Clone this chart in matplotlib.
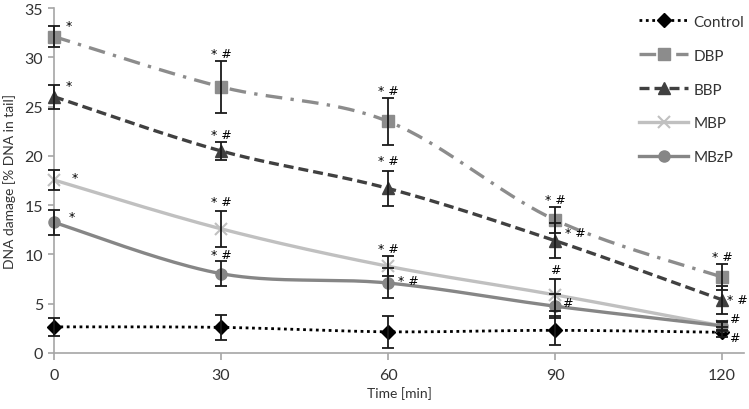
import numpy as np
import matplotlib
matplotlib.use("Agg")
import matplotlib.pyplot as plt

plt.rcParams['font.family'] = ['Lato', 'DejaVu Sans']

# data
time = [0, 30, 60, 90, 120]
names = ['Control', 'DBP', 'BBP', 'MBP', 'MBzP']
control = [2.65, 2.6, 2.15, 2.3, 2.1]
control_err = [0.9, 1.25, 1.6, 1.5, 0.5]
dbp = [32.1, 27.0, 23.5, 13.5, 7.7]
dbp_err = [1.05, 2.65, 2.35, 1.3, 1.3]
bbp = [26.0, 20.5, 16.7, 11.4, 5.4]
bbp_err = [1.2, 0.9, 1.8, 1.8, 1.4]
mbp = [17.55, 12.6, 8.8, 5.9, 2.75]
mbp_err = [1.05, 1.8, 1.0, 1.6, 0.4]
mbzp = [13.25, 8.05, 7.1, 4.75, 2.75]
mbzp_err = [1.25, 1.3, 1.5, 1.2, 0.5]

# significance marks: (series, time index, text, dx pt, dy pt)
marks = [
    ('DBP', 0, '*', 11, 8), ('DBP', 1, '* #', 0, 24), ('DBP', 2, '* #', 0, 22),
    ('DBP', 3, '* #', 0, 15), ('DBP', 4, '* #', 0, 15),
    ('BBP', 0, '*', 11, 8), ('BBP', 1, '* #', 0, 12), ('BBP', 2, '* #', 0, 20),
    ('BBP', 3, '* #', 15, 6), ('BBP', 4, '* #', 11, 0),
    ('MBP', 0, '*', 15, 2), ('MBP', 1, '* #', 0, 20), ('MBP', 2, '* #', 0, 13),
    ('MBP', 3, '#', 0, 18), ('MBP', 4, '#', 9, 5),
    ('MBzP', 0, '*', 13, 4), ('MBzP', 1, '* #', 0, 14), ('MBzP', 2, '* #', 15, 2),
    ('MBzP', 3, '#', 9, 3), ('MBzP', 4, '#', 9, -8),
]

values = {'Control': control, 'DBP': dbp, 'BBP': bbp, 'MBP': mbp, 'MBzP': mbzp}
errors = {'Control': control_err, 'DBP': dbp_err, 'BBP': bbp_err,
          'MBP': mbp_err, 'MBzP': mbzp_err}
styles = {
    'Control': dict(color='black', ls=(0, (1, 1.3)), lw=2.0, marker='D', ms=7, mfc='black', mec='black'),
    'DBP': dict(color='#8c8c8c', ls=(0, (5, 2.5, 1, 2.5)), lw=2.4, marker='s', ms=8, mfc='#8c8c8c', mec='#8c8c8c'),
    'BBP': dict(color='#404040', ls=(0, (3, 1.5)), lw=2.4, marker='^', ms=8, mfc='#404040', mec='#404040'),
    'MBP': dict(color='#c0c0c0', ls='-', lw=2.4, marker='x', ms=8, mfc='#c0c0c0', mec='#c0c0c0', mew=1.5),
    'MBzP': dict(color='#868686', ls='-', lw=2.4, marker='o', ms=8, mfc='#868686', mec='#868686'),
}


def smooth(x, y, n=40):
    # excel-like smoothed line (bezier through points)
    x = np.asarray(x, float)
    y = np.asarray(y, float)
    px = np.concatenate([[x[0]], x, [x[-1]]])
    py = np.concatenate([[y[0]], y, [y[-1]]])
    xs, ys = [], []
    t = np.linspace(0, 1, n)
    for i in range(1, len(px) - 2):
        p0 = np.array([px[i], py[i]])
        p3 = np.array([px[i + 1], py[i + 1]])
        p1 = p0 + (np.array([px[i + 1], py[i + 1]]) - np.array([px[i - 1], py[i - 1]])) / 6
        p2 = p3 - (np.array([px[i + 2], py[i + 2]]) - np.array([px[i], py[i]])) / 6
        b = ((1 - t) ** 3)[:, None] * p0 + (3 * (1 - t) ** 2 * t)[:, None] * p1 \
            + (3 * (1 - t) * t ** 2)[:, None] * p2 + (t ** 3)[:, None] * p3
        xs.extend(b[:, 0])
        ys.extend(b[:, 1])
    return xs, ys


fig = plt.figure(figsize=(7.49, 4.10), dpi=100)
ax = fig.add_axes([0.0721, 0.1366, 0.9216, 0.8414])

handles = []
for name in names:
    st = styles[name]
    sx, sy = smooth(time, values[name])
    ax.plot(sx, sy, color=st['color'], ls=st['ls'], lw=st['lw'], zorder=2, clip_on=False)
    ax.plot(time, values[name], ls='none', marker=st['marker'], ms=st['ms'],
            mfc=st['mfc'], mec=st['mec'], mew=st.get('mew', 1), zorder=3, clip_on=False)
    ax.errorbar(time, values[name], yerr=errors[name], fmt='none', ecolor='#1a1a1a',
                elinewidth=1.3, capsize=4, capthick=1.3, zorder=4, clip_on=False)
    h, = ax.plot([], [], color=st['color'], ls=st['ls'], lw=st['lw'], marker=st['marker'],
                 ms=st['ms'], mfc=st['mfc'], mec=st['mec'], mew=st.get('mew', 1))
    handles.append(h)

for name, i, txt, dx, dy in marks:
    ax.annotate(txt, (time[i], values[name][i]), xytext=(dx, dy), textcoords='offset points',
                ha='center', va='center', fontsize=9, color='black', zorder=5,
                family='DejaVu Sans')

ax.set_xlim(0, 124)
ax.set_ylim(0, 35)
ax.set_xticks(time)
ax.set_yticks(range(0, 36, 5))
for s in ['top', 'right']:
    ax.spines[s].set_visible(False)
for s in ['left', 'bottom']:
    ax.spines[s].set_color('#a6a6a6')
    ax.spines[s].set_linewidth(1.2)
ax.tick_params(axis='both', colors='#a6a6a6', labelcolor='#333333', labelsize=11.5, width=1.2)
ax.tick_params(axis='y', length=4, pad=4)
ax.tick_params(axis='x', length=5, pad=6)
ax.set_xlabel('Time [min]', fontsize=10, color='#333333', labelpad=3)
ax.set_ylabel('DNA damage [% DNA in tail]', fontsize=10, color='#333333', labelpad=6)

fig.legend(handles, names, loc='upper left', bbox_to_anchor=(0.835, 0.995), frameon=False,
           fontsize=11, handlelength=3.2, handletextpad=0.35, labelspacing=1.3,
           labelcolor='#333333')

fig.savefig('out.png', dpi=100)
